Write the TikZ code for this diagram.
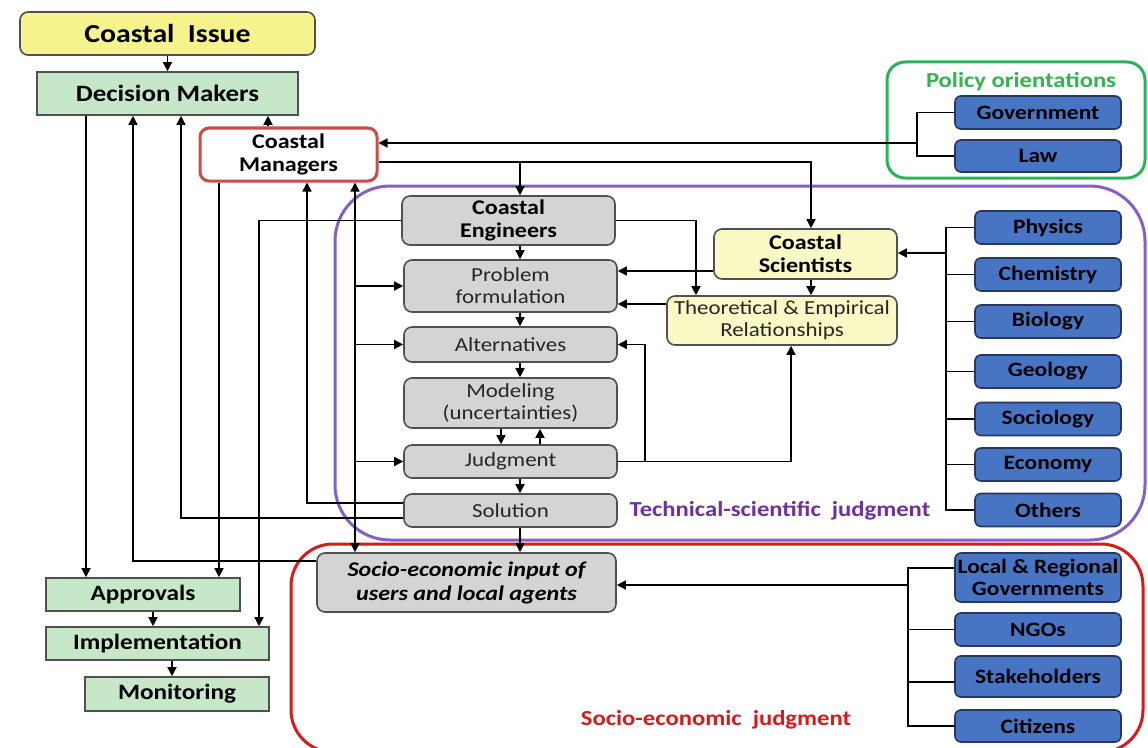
\documentclass[tikz,border=0pt]{standalone}
\usepackage{fontspec}
\setmainfont{Carlito}[FakeStretch=1.15]
\usetikzlibrary{arrows.meta,calc}
\definecolor{issueY}{RGB}{246,242,140}
\definecolor{sciY}{RGB}{250,248,196}
\definecolor{boxG}{RGB}{198,232,200}
\definecolor{boxB}{RGB}{72,116,196}
\definecolor{boxBd}{RGB}{38,56,96}
\definecolor{boxGr}{RGB}{212,212,212}
\definecolor{bordGr}{RGB}{80,80,80}
\definecolor{cmRed}{RGB}{205,75,75}
\definecolor{frRed}{RGB}{212,28,28}
\definecolor{frPur}{RGB}{132,96,196}
\definecolor{txPur}{RGB}{112,48,160}
\definecolor{frGrn}{RGB}{40,180,90}
\definecolor{txGrn}{RGB}{50,180,80}
\begin{document}
\begin{tikzpicture}[x=1bp,y=-1bp,
  base/.style={draw, line width=1.6bp, align=center, inner sep=0pt, text=black},
  yelbox/.style={base, fill=issueY, draw=bordGr, rounded corners=8bp},
  scibox/.style={base, fill=sciY, draw=bordGr, rounded corners=8bp},
  grnbox/.style={base, fill=boxG, draw=bordGr, font=\bfseries\fontsize{22}{24}\selectfont},
  grybox/.style={base, fill=boxGr, draw=bordGr, rounded corners=8bp, font=\fontsize{20}{22}\selectfont, text=black!85},
  blubox/.style={base, fill=boxB, draw=boxBd, rounded corners=6bp, minimum width=146bp, minimum height=33bp, font=\bfseries\fontsize{20.5}{22}\selectfont},
  arr/.style={line width=1.5bp, -{Triangle[length=9bp,width=9bp]}},
  darr/.style={line width=1.5bp, {Triangle[length=9bp,width=9bp]}-{Triangle[length=9bp,width=9bp]}},
  ln/.style={line width=1.5bp},
  frame/.style={line width=3bp},
  flabel/.style={font=\bfseries\fontsize{21.5}{23}\selectfont}
]
\useasboundingbox (0,0) rectangle (1148,748);
\fill[white] (0,0) rectangle (1148,748);

% frames
\draw[frame, frPur, rounded corners=55bp] (335,186) rectangle (1145,540);
\draw[frame, frRed, rounded corners=42bp] (291,544) rectangle (1143,752);
\draw[frame, frGrn, rounded corners=18bp] (887,62) rectangle (1145,178);
\node[flabel, text=txGrn] (lpol) at (1021,82) {Policy orientations};
\node[flabel, text=txPur] (ltec) at (780,511) {Technical-scientific\ \ judgment};
\node[flabel, text=frRed] (lsoc) at (716,720) {Socio-economic\ \ judgment};

% left column
\node[yelbox, minimum width=295bp, minimum height=43bp, font=\bfseries\fontsize{26}{28}\selectfont] (issue) at (167.5,33.5) {Coastal\ \ Issue};
\node[grnbox, minimum width=261bp, minimum height=43bp, font=\bfseries\fontsize{23.5}{25}\selectfont] (dm) at (167.5,93.5) {Decision Makers};
\node[base, fill=white, draw=cmRed, line width=3bp, rounded corners=9bp, minimum width=177bp, minimum height=53bp, font=\bfseries\fontsize{21}{23}\selectfont] (cm) at (288.5,154.5) {Coastal\\Managers};
\node[grnbox, minimum width=194bp, minimum height=33bp] (app) at (143,594.5) {Approvals};
\node[grnbox, minimum width=223bp, minimum height=33bp] (impl) at (157.5,643.5) {Implementation};
\node[grnbox, minimum width=184bp, minimum height=34bp] (mon) at (177,694) {Monitoring};

% central column
\node[grybox, minimum width=213bp, minimum height=49bp, font=\bfseries\fontsize{21}{23}\selectfont, text=black] (ce) at (508.5,220.5) {Coastal\\Engineers};
\node[grybox, minimum width=213bp, minimum height=52bp] (pf) at (510.5,286) {Problem\\formulation};
\node[grybox, minimum width=213bp, minimum height=35bp] (alt) at (510.5,344.5) {Alternatives};
\node[grybox, minimum width=213bp, minimum height=50bp] (mod) at (510.5,403) {Modeling\\(uncertainties)};
\node[grybox, minimum width=213bp, minimum height=33bp] (jud) at (510.5,461.5) {Judgment};
\node[grybox, minimum width=213bp, minimum height=33bp] (sol) at (510.5,510.5) {Solution};
\node[grybox, minimum width=299bp, minimum height=59bp, font=\bfseries\itshape\fontsize{21}{24}\selectfont, text=black] (socio) at (466.5,582.5) {Socio-economic input of\\users and local agents};

% scientists
\node[scibox, minimum width=183bp, minimum height=50bp, font=\bfseries\fontsize{21}{23}\selectfont] (cs) at (805.5,254) {Coastal\\Scientists};
\node[scibox, minimum width=230bp, minimum height=49bp, font=\fontsize{20}{22}\selectfont, text=black!85] (ter) at (782,320.5) {Theoretical \& Empirical\\Relationships};

% blue boxes
\node[blubox, minimum width=166bp] (gov) at (1038,112.5) {Government};
\node[blubox, minimum width=166bp, minimum height=32bp] (law) at (1038,156) {Law};
\node[blubox] (phys) at (1048,227.5) {Physics};
\node[blubox] (chem) at (1048,274.5) {Chemistry};
\node[blubox] (bio) at (1048,321.5) {Biology};
\node[blubox] (geo) at (1048,371.5) {Geology};
\node[blubox] (soc) at (1048,419) {Sociology};
\node[blubox] (eco) at (1048,464.5) {Economy};
\node[blubox] (oth) at (1048,510) {Others};
\node[blubox, minimum width=166bp, minimum height=49bp] (lrg) at (1038,577.5) {Local \& Regional\\Governments};
\node[blubox, minimum width=166bp] (ngo) at (1038,629.5) {NGOs};
\node[blubox, minimum width=166bp, minimum height=41bp] (stk) at (1038,676.5) {Stakeholders};
\node[blubox, minimum width=166bp, minimum height=32bp] (cit) at (1038,726) {Citizens};

% routing coordinates
\coordinate (xA) at (86,0);
\coordinate (xB) at (133,0);
\coordinate (xC) at (181,0);
\coordinate (xD) at (219,0);
\coordinate (xE) at (259,0);
\coordinate (xF) at (268,0);
\coordinate (xG) at (307,0);
\coordinate (xH) at (355,0);
\coordinate (xI) at (520,0);
\coordinate (xJ) at (811,0);
\coordinate (xK) at (696,0);
\coordinate (xL) at (645,0);
\coordinate (xM) at (791,0);
\coordinate (xO) at (946,0);
\coordinate (xP) at (908,0);
\coordinate (xQ) at (501,0);
\coordinate (xR) at (540,0);
\coordinate (xS) at (153,0);
\coordinate (xT) at (172,0);
\coordinate (ySoc) at (0,561);
\coordinate (ySolA) at (0,503);
\coordinate (ySolB) at (0,518);
\coordinate (yCMo) at (0,162);
\coordinate (yCSPF) at (0,271);
\coordinate (yTEPF) at (0,304);
\coordinate (yLRG) at (0,568);
\coordinate (yStk) at (0,682);
\coordinate (pb) at (917,143);
\coordinate (sb) at (946,253);
\coordinate (ob) at (908,585);

% connectors: left side
\draw[arr] (issue.south -| dm.north) -- (dm.north);
\draw[arr] (dm.south -| xA) -- (app.north -| xA);
\draw[arr] (socio.west |- ySoc) -| (dm.south -| xB);
\draw[arr] (sol.west |- ySolB) -| (dm.south -| xC);
\draw[arr] (cm.south -| xD) -- (app.north -| xD);
\draw[arr] (ce.west) -| (impl.north -| xE);
\draw[arr] (cm.north -| xF) -- (dm.south -| xF);
\draw[arr] (sol.west |- ySolA) -| (cm.south -| xG);
\draw[darr] (cm.south -| xH) -- (socio.north -| xH);
\draw[arr] (pf.west -| xH) -- (pf.west);
\draw[arr] (alt.west -| xH) -- (alt.west);
\draw[arr] (jud.west -| xH) -- (jud.west);
\draw[arr] (app.south -| xS) -- (impl.north -| xS);
\draw[arr] (impl.south -| xT) -- (mon.north -| xT);

% central column
\draw[arr] (cm.east |- yCMo) -| (cs.north -| xJ);
\draw[arr] (cm.east |- yCMo) -| (ce.north -| xI);
\draw[arr] (ce.south -| xI) -- (pf.north -| xI);
\draw[arr] (pf.south -| xI) -- (alt.north -| xI);
\draw[arr] (alt.south -| xI) -- (mod.north -| xI);
\draw[arr] (mod.south -| xQ) -- (jud.north -| xQ);
\draw[arr] (jud.north -| xR) -- (mod.south -| xR);
\draw[arr] (jud.south -| xI) -- (sol.north -| xI);
\draw[arr] (sol.south -| xI) -- (socio.north -| xI);

% scientists
\draw[arr] (ce.east) -| (ter.north -| xK);
\draw[arr] (cs.west |- yCSPF) -- (pf.east |- yCSPF);
\draw[arr] (ter.west |- yTEPF) -- (pf.east |- yTEPF);
\draw[arr] (cs.south -| xJ) -- (ter.north -| xJ);
\draw[arr] (jud.east) -| (ter.south -| xM);
\draw[arr] (jud.east -| xL) |- (alt.east);

% policy bracket
\draw[ln] (gov.west) -| (law.west -| pb) -- (law.west);
\draw[arr] (pb) -- (cm.east |- pb);

% science bracket
\draw[ln] (phys.west) -| (oth.west -| xO) -- (oth.west);
\foreach \n in {chem,bio,geo,soc,eco} \draw[ln] (\n.west) -- (\n.west -| xO);
\draw[arr] (sb) -- (cs.east |- sb);

% social bracket
\draw[ln] (lrg.west |- yLRG) -| (cit.west -| xP) -- (cit.west);
\draw[ln] (ngo.west) -- (ngo.west -| xP);
\draw[ln] (stk.west |- yStk) -- (xP |- yStk);
\draw[arr] (ob) -- (socio.east |- ob);
\end{tikzpicture}
\end{document}
